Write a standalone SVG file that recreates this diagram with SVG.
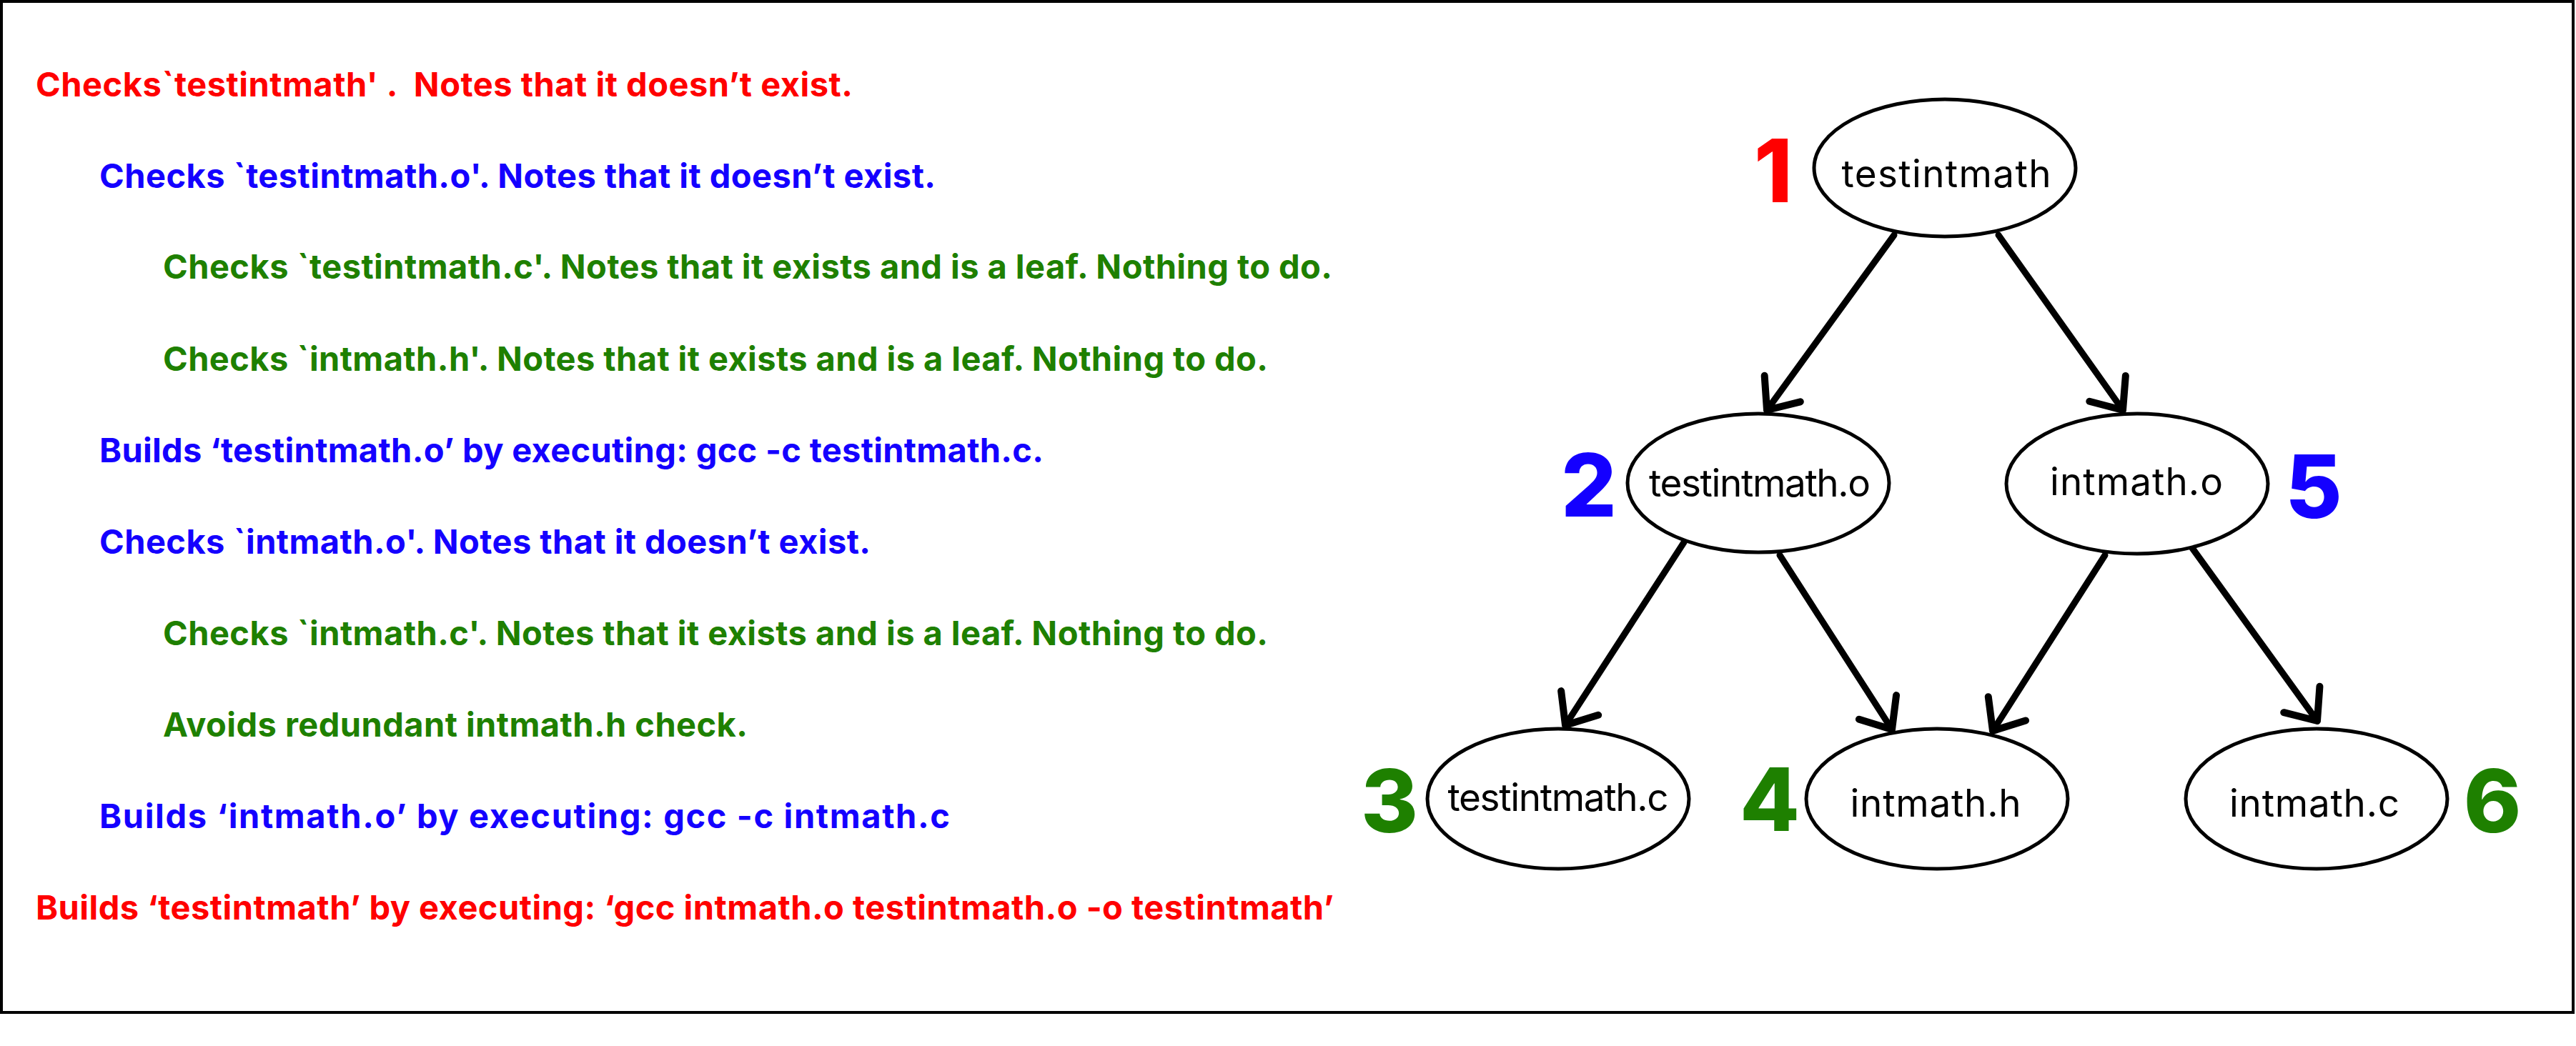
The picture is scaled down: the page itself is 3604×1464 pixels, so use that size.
<svg xmlns="http://www.w3.org/2000/svg" width="3604" height="1464" viewBox="0 0 3604 1464">
<style>
.step{font-family:Inter,"Liberation Sans",sans-serif;font-weight:700;font-size:47px;white-space:pre}
.r{fill:#ff0000}.b{fill:#1400ff}.g{fill:#1e8000}
.node ellipse{fill:#ffffff;stroke:#000000;stroke-width:5}
.lbl{font-family:Inter,"Liberation Sans",sans-serif;font-weight:400;font-size:53px;fill:#000000;text-anchor:middle}
.num{font-family:Inter,"Liberation Sans",sans-serif;font-weight:800;font-size:122px;text-anchor:middle}
.edge{stroke:#000000;stroke-width:9;fill:none;stroke-linecap:round;marker-end:url(#arr)}
</style>
<defs>
<marker id="arr" markerUnits="userSpaceOnUse" orient="auto" refX="0" refY="0" markerWidth="100" markerHeight="100" viewBox="-60 -50 100 100" overflow="visible">
<path d="M-37,-31 L0,0 L-37,31" fill="none" stroke="#000000" stroke-width="10" stroke-linecap="round" stroke-linejoin="round"/>
</marker>
</defs>
<rect x="0" y="0" width="3604" height="1464" fill="#ffffff"/>
<rect x="2" y="2" width="3598" height="1415" fill="none" stroke="#000000" stroke-width="4"/>
<g id="steps">
<text class="step r" x="50" y="135" textLength="1143" xml:space="preserve">Checks`testintmath' .  Notes that it doesn’t exist.</text>
<text class="step b" x="139" y="263" textLength="1170">Checks `testintmath.o'. Notes that it doesn’t exist.</text>
<text class="step g" x="228" y="390" textLength="1636">Checks `testintmath.c'. Notes that it exists and is a leaf. Nothing to do.</text>
<text class="step g" x="228" y="519" textLength="1546">Checks `intmath.h'. Notes that it exists and is a leaf. Nothing to do.</text>
<text class="step b" x="139" y="647" textLength="1321">Builds ‘testintmath.o’ by executing: gcc -c testintmath.c.</text>
<text class="step b" x="139" y="775" textLength="1079">Checks `intmath.o'. Notes that it doesn’t exist.</text>
<text class="step g" x="228" y="903" textLength="1546">Checks `intmath.c'. Notes that it exists and is a leaf. Nothing to do.</text>
<text class="step g" x="228" y="1031" textLength="818">Avoids redundant intmath.h check.</text>
<text class="step b" x="139" y="1159" textLength="1190">Builds ‘intmath.o’ by executing: gcc -c intmath.c</text>
<text class="step r" x="50" y="1287" textLength="1816">Builds ‘testintmath’ by executing: ‘gcc intmath.o testintmath.o -o testintmath’</text>
</g>
<g id="connectors">
<line class="edge" x1="2650" y1="329" x2="2472" y2="574"/>
<line class="edge" x1="2796" y1="329" x2="2970" y2="574"/>
<line class="edge" x1="2356" y1="759" x2="2190" y2="1015"/>
<line class="edge" x1="2490" y1="777" x2="2647" y2="1021"/>
<line class="edge" x1="2945" y1="777" x2="2788" y2="1023"/>
<line class="edge" x1="3067" y1="767" x2="3242" y2="1009"/>
</g>
<g id="node1" class="node">
<ellipse cx="2721" cy="235" rx="183" ry="96"/>
<text class="lbl" x="2723" y="262" textLength="293">testintmath</text>
<text class="num r" x="2481" y="283">1</text>
</g>
<g id="node2" class="node">
<ellipse cx="2460" cy="676" rx="183" ry="97"/>
<text class="lbl" x="2462" y="695" textLength="310">testintmath.o</text>
<text class="num b" x="2223" y="723">2</text>
</g>
<g id="node3" class="node">
<ellipse cx="2180" cy="1118" rx="183" ry="98"/>
<text class="lbl" x="2180" y="1135" textLength="309">testintmath.c</text>
<text class="num g" x="1944" y="1165">3</text>
</g>
<g id="node4" class="node">
<ellipse cx="2710" cy="1118" rx="183" ry="98"/>
<text class="lbl" x="2708" y="1143" textLength="239">intmath.h</text>
<text class="num g" x="2476" y="1163">4</text>
</g>
<g id="node5" class="node">
<ellipse cx="2990" cy="677" rx="183" ry="98"/>
<text class="lbl" x="2989" y="693" textLength="242">intmath.o</text>
<text class="num b" x="3237" y="725">5</text>
</g>
<g id="node6" class="node">
<ellipse cx="3241" cy="1118" rx="183" ry="98"/>
<text class="lbl" x="3238" y="1143" textLength="238">intmath.c</text>
<text class="num g" x="3487" y="1165">6</text>
</g>
</svg>
